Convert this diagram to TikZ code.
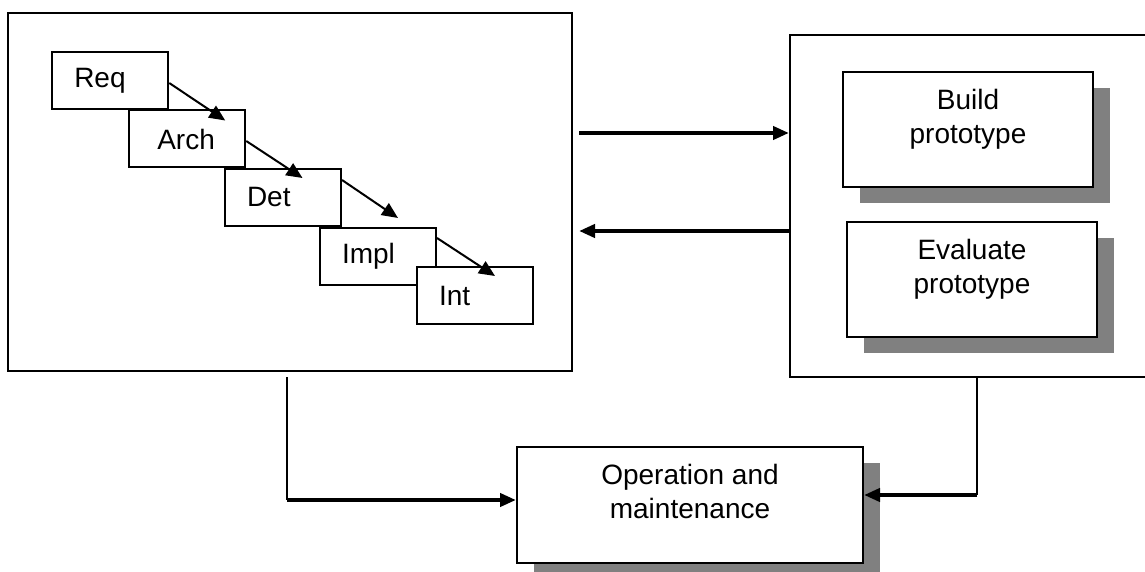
\documentclass[tikz,border=0pt]{standalone}
\usepackage{fontspec}
\setmainfont{Liberation Sans}
\usepackage{tikz}
\usetikzlibrary{arrows.meta,positioning,shadows,calc}

\begin{document}
\begin{tikzpicture}[x=0.5pt,y=-0.5pt,
    every node/.style={font=\fontsize{14}{17}\selectfont},
    bigbox/.style={draw,line width=1pt,inner sep=0pt},
    stage/.style={draw,fill=white,line width=1pt,inner xsep=11pt,inner ysep=0pt,
      text width=36pt,align=left,minimum height=28.5pt},
    protobox/.style={draw,fill=white,line width=1pt,minimum width=125pt,minimum height=57.5pt,
      drop shadow={shadow xshift=8.5pt,shadow yshift=-8pt,fill=black!50,opacity=1}},
    caption/.style={anchor=north,align=center,inner sep=0pt,yshift=-9pt},
    cascade/.style={line width=1pt,-{Triangle[length=8pt,width=7pt]}},
    flow/.style={line width=2pt,-{Triangle[length=8pt,width=6.5pt]}},
    link/.style={line width=0.8pt}]
  \useasboundingbox (0,0) rectangle (1145,572);
  \clip (0,0) rectangle (1145,572);

  \node[bigbox,minimum width=282pt,minimum height=179pt] (waterfall) at (290,192) {};
  \node[bigbox,minimum width=187pt,minimum height=171pt] (proto) at (977,206) {};

  \node[stage] (req) at (110.25,80.5) {Req};
  \node[stage] (arch) at (187.25,139) {\hspace*{3pt}Arch};
  \node[stage] (det) at (283,197.5) {Det};
  \node[stage] (impl) at (378,256.5) {Impl};
  \node[stage] (int) at (475,295.5) {Int};

  \draw[cascade] ([yshift=-1.25pt]req.east) -- ($(arch.north east)+(-21,11)$);
  \draw[cascade] ([yshift=-1pt]arch.east) -- ($(det.north east)+(-39.5,10)$);
  \draw[cascade] ([yshift=8.75pt]det.east) -- ($(impl.north east)+(-39,-9)$);
  \draw[cascade] ([yshift=9.25pt]impl.east) -- ($(int.north east)+(-39,10)$);

  \node[protobox,label={[caption,name=buildtxt]north:Build\\prototype}] (build) at (968,129.5) {};
  \node[protobox,label={[caption,name=evaltxt]north:Evaluate\\prototype}] (eval) at (972,279.5) {};
  \node[protobox,minimum width=173pt,minimum height=58pt,
    label={[caption,name=optxt]north:Operation and\\maintenance}] (op) at (690,505) {};

  \coordinate (hi) at ([yshift=36.5pt]proto.west);
  \coordinate (lo) at ([yshift=-12.5pt]proto.west);
  \draw[flow,shorten <=3pt] (hi -| waterfall.east) -- (hi);
  \draw[flow,shorten >=3pt] (lo) -- (lo -| waterfall.east);

  \coordinate (ltop) at ([xshift=-1.5pt,yshift=-2.5pt]waterfall.south);
  \path (ltop |- op.west) ++(0,-5) coordinate (lbend);
  \draw[link] (ltop) -- (lbend);
  \draw[flow] (lbend) -- (lbend -| op.west);

  \coordinate (rtop) at (proto.south);
  \path (rtop |- op.east) ++(0,-10) coordinate (rbend);
  \draw[link] (rtop) -- (rbend);
  \draw[flow] (rbend) -- (rbend -| op.east);
\end{tikzpicture}
\end{document}
